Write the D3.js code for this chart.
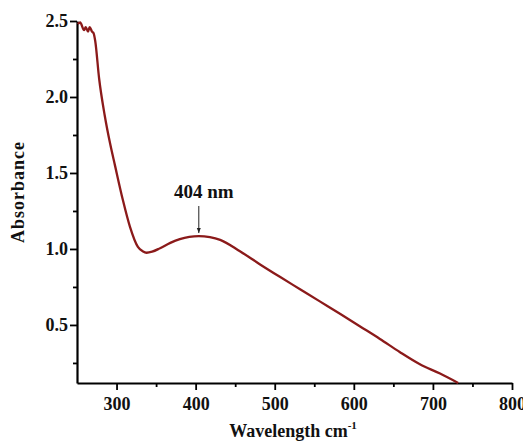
<!DOCTYPE html>
<html>
<head>
<meta charset="utf-8">
<script src="https://cdn.jsdelivr.net/npm/d3@7"></script>
<style>
body { margin: 0; background: #fff; }
</style>
</head>
<body>
<script>
// spectrum
var wavelength = [251, 254, 259, 261, 264, 266, 269, 271, 273, 278, 285, 292, 298, 308, 317, 327, 333, 338, 345, 355, 368, 380, 392, 404, 418, 431, 456, 481, 507, 532, 557, 583, 608, 633, 658, 683, 709, 732];
var absorbance = [2.48, 2.49, 2.44, 2.46, 2.43, 2.46, 2.43, 2.42, 2.37, 2.12, 1.88, 1.69, 1.55, 1.322, 1.145, 1.013, 0.985, 0.975, 0.982, 1.005, 1.04, 1.065, 1.08, 1.085, 1.078, 1.06, 0.985, 0.90, 0.815, 0.735, 0.655, 0.572, 0.49, 0.408, 0.322, 0.243, 0.18, 0.118];
var xTicks = [300, 400, 500, 600, 700, 800];
var xMinor = [350, 450, 550, 650, 750];
var yTicks = [0.5, 1.0, 1.5, 2.0, 2.5];
var yMinor = [0.25, 0.75, 1.25, 1.75, 2.25];
var peak = 404;
var peakLabel = "404 nm";

var serif = "'Liberation Serif', 'Times New Roman', Times, serif";

window.onload = function()
{
	var svg = d3.select("body").append("svg").attr("width", 523).attr("height", 441);

	var x = d3.scaleLinear().domain([250, 800]).range([77, 512]);
	var y = d3.scaleLinear().domain([0.118, 2.5]).range([383, 21]);

	//minor ticks first, then the major axes on top
	svg.append("g").attr("transform", "translate(0,383)")
		.call(d3.axisBottom(x).tickValues(xMinor).tickSize(4).tickFormat(""))
		.call(function(g) { g.select(".domain").remove(); });
	svg.append("g").attr("transform", "translate(77,0)")
		.call(d3.axisLeft(y).tickValues(yMinor).tickSize(4).tickFormat(""))
		.call(function(g) { g.select(".domain").remove(); });

	var xAxis = svg.append("g").attr("transform", "translate(0,383)")
		.call(d3.axisBottom(x).tickValues(xTicks).tickSize(7).tickSizeOuter(0).tickPadding(7).tickFormat(d3.format("d")));
	var yAxis = svg.append("g").attr("transform", "translate(77,0)")
		.call(d3.axisLeft(y).tickValues(yTicks).tickSize(7).tickSizeOuter(0).tickPadding(2).tickFormat(d3.format(".1f")));

	svg.selectAll(".tick line").attr("stroke", "#000").attr("stroke-width", 1.8);
	svg.selectAll(".domain").attr("stroke", "#000").attr("stroke-width", 2.2);
	svg.selectAll("g").attr("font-family", serif);
	xAxis.selectAll("text").attr("font-size", 18).attr("font-weight", "bold").attr("fill", "#111");
	yAxis.selectAll("text").attr("font-size", 18).attr("font-weight", "bold").attr("fill", "#111");

	//the curve
	var line = d3.line()
		.x(function(d, i) { return x(wavelength[i]); })
		.y(function(d) { return y(d); })
		.curve(d3.curveMonotoneX);
	svg.append("path").datum(absorbance).attr("d", line)
		.attr("fill", "none").attr("stroke", "#8b1a1a").attr("stroke-width", 2.3);

	//peak annotation
	var px = x(peak);
	var tip = y(1.085) - 3;
	svg.append("line").attr("x1", px).attr("x2", px).attr("y1", 206).attr("y2", tip)
		.attr("stroke", "#222").attr("stroke-width", 1);
	svg.append("path")
		.attr("d", "M" + (px - 2) + "," + (tip - 5) + "L" + (px + 2) + "," + (tip - 5) + "L" + px + "," + tip + "Z")
		.attr("fill", "#222");
	svg.append("text").attr("x", px + 5).attr("y", 198).attr("text-anchor", "middle")
		.attr("font-family", serif).attr("font-weight", "bold")
		.attr("font-size", 19).attr("fill", "#111").text(peakLabel);

	//axis titles
	var xt = svg.append("text").attr("x", 293).attr("y", 437).attr("text-anchor", "middle")
		.attr("font-family", serif).attr("font-weight", "bold")
		.attr("font-size", 18).attr("fill", "#111");
	xt.append("tspan").text("Wavelength cm");
	xt.append("tspan").attr("dy", -8).attr("font-size", 11).text("-1");

	svg.append("text").attr("transform", "translate(24,192) rotate(-90)").attr("text-anchor", "middle")
		.attr("font-family", serif).attr("font-weight", "bold").attr("letter-spacing", 1)
		.attr("font-size", 18).attr("fill", "#111").text("Absorbance");
}
</script>
</body>
</html>
